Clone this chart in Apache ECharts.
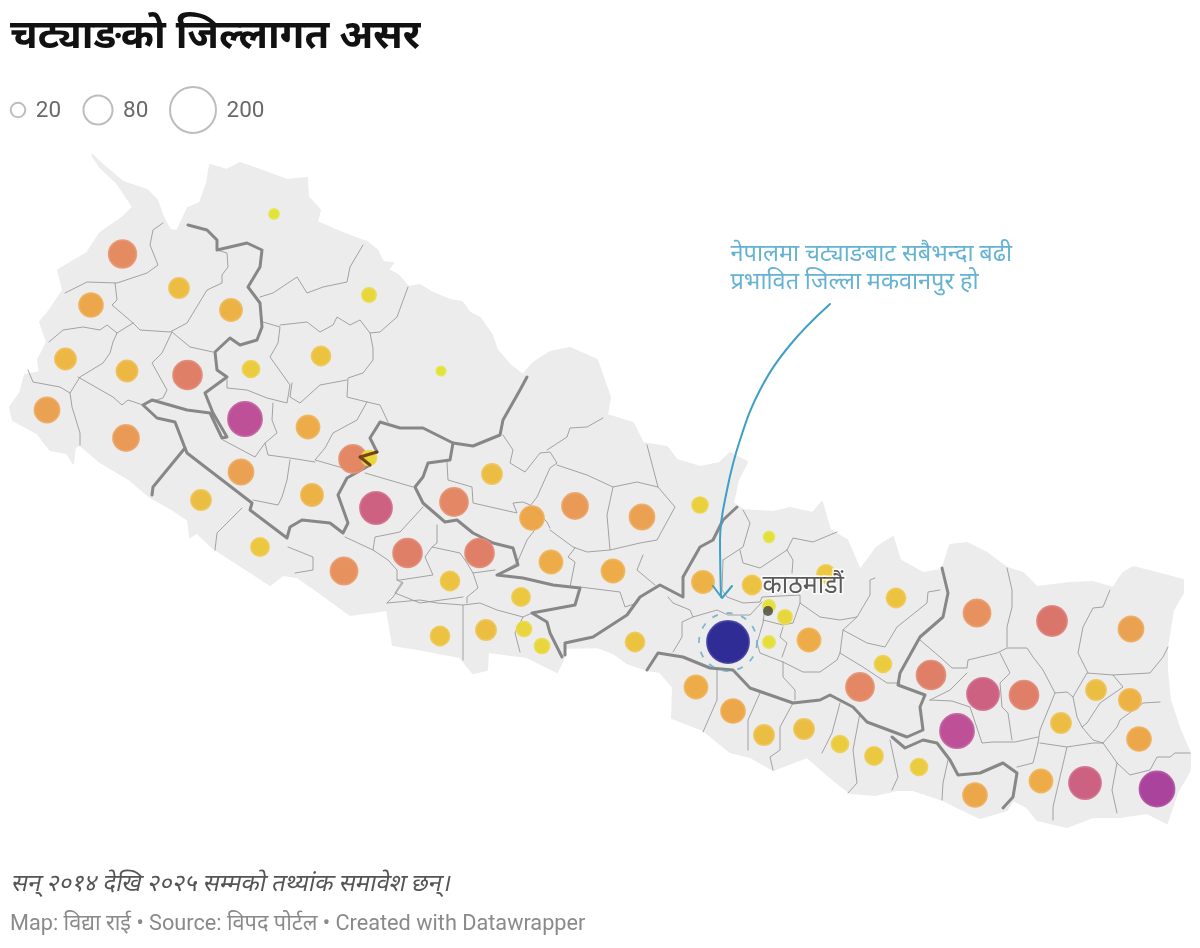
<!DOCTYPE html>
<html><head><meta charset="utf-8">
<style>html,body{margin:0;padding:0;background:#fff}#main{width:1200px;height:948px}</style>
<script src="https://cdn.jsdelivr.net/npm/echarts@6/dist/echarts.min.js"></script>
</head><body><div id="main"></div>
<script>
const titleText = "चट्याङको जिल्लागत असर";
const noteText = "सन् २०१४ देखि २०२५ सम्मको तथ्यांक समावेश छन्।";
const sourceText = "Map: विद्या राई • Source: विपद पोर्टल • Created with Datawrapper";
const annotationText = "नेपालमा चट्याङबाट सबैभन्दा बढी\nप्रभावित जिल्ला मकवानपुर हो";
const capitalName = "काठमाडौं";
const legendValues = [20, 80, 200];
const legendX = [18, 98, 193];

const bubbleX = [122.5,179,91,231,274,369,65.5,127,187.5,251,321,441,47,126,245,308,241,201,312,353,369,376,260,344,407.5,454,479.5,492,532,575,642,551,450,613,521,440,486,524,542,635,700,703,752,769,826,769,785,769,728,809,896,883,860,696,733,764,804,840,874,919,977,1052,1131,931,983,1024,1096,1130,1061,1139,957,975,1041,1085,1157];
const bubbleY = [254,288,305,310,214,295,359,371,375,369,356,371,410,438,419,427,472,500,495,459,458,508,547,571,553,502,553,474,518,506,517,562,581,571,597,636,630,629,646,642,505,582,585,537,574,606,617,642,642,640,598,664,687,687,711,735,729,744,756,767,613,621,629,675,694,695,690,700,723,739,731,795,781,783,789];
const bubbleValue = [72,38,54,46,9.5,19,42,42,79,27,34,8,59,64,109,50,59,38,46,74,21,97,31,69,79,74,79,38,54,64,59,50,34,50,31,34,38,21,21,34,24,46,34,11,31,14,19,14,167,50,34,27,74,50,54,38,38,27,31,27,69,85,59,79,97,79,38,46,38,54,109,54,50,97,116];

const nepalOutline = [[92,155],[103,165],[123,182],[147,190],[157,200],[163,217],[170,230],[177,231],[188,208],[200,203],[207,183],[210,165],[227,170],[240,163],[260,170],[287,180],[307,178],[308,197],[320,210],[317,222],[340,232],[353,237],[367,242],[377,250],[383,262],[393,263],[388,270],[398,275],[408,287],[420,285],[433,293],[450,300],[462,302],[470,313],[480,318],[492,335],[497,350],[510,365],[523,375],[533,363],[550,352],[570,348],[597,360],[603,377],[610,397],[607,415],[633,423],[643,443],[667,447],[677,460],[700,467],[720,463],[730,453],[747,462],[738,480],[733,503],[743,510],[773,512],[790,508],[813,513],[822,502],[830,530],[847,540],[860,570],[877,547],[893,537],[900,560],[923,573],[942,570],[950,545],[967,543],[987,553],[1007,568],[1023,573],[1037,587],[1070,583],[1093,582],[1113,588],[1123,573],[1133,567],[1157,573],[1183,580],[1183,593],[1173,610],[1167,647],[1167,670],[1170,700],[1180,730],[1190,753],[1190,770],[1177,793],[1167,823],[1147,813],[1120,817],[1093,817],[1067,827],[1037,820],[1027,807],[1013,800],[1007,810],[980,818],[957,807],[943,800],[913,790],[897,790],[875,795],[850,793],[830,777],[807,757],[773,770],[750,757],[730,752],[703,730],[672,718],[673,687],[660,672],[647,670],[627,663],[613,653],[597,647],[566,648],[563,660],[557,672],[527,657],[488,652],[487,670],[473,673],[460,657],[423,650],[393,645],[387,610],[350,615],[320,593],[297,577],[283,575],[270,585],[247,570],[213,548],[197,533],[190,537],[188,520],[173,510],[150,497],[130,480],[100,462],[80,445],[75,447],[73,463],[67,453],[50,450],[37,433],[13,420],[10,407],[20,393],[25,375],[40,372],[38,360],[47,342],[40,322],[50,310],[63,290],[58,270],[87,253],[100,233],[123,217],[133,207],[117,183],[100,167]];

const provinceBorders = [
 [[188,225],[207,230],[217,240],[217,250],[247,243],[262,250],[260,267],[248,287],[260,303],[262,327],[257,340],[240,345],[230,338],[215,352],[217,370],[227,377],[205,393],[213,413],[227,437],[222,438],[210,413],[187,410],[152,400],[143,405],[157,418],[175,422],[185,448],[153,487],[152,495]],
 [[185,448],[187,453],[252,503],[250,510],[287,538],[290,527],[302,520],[330,523],[343,533],[348,523],[338,495],[347,478],[370,465],[360,457],[377,452],[370,438],[380,422],[400,428],[423,428],[453,443],[473,446],[500,435],[503,420],[520,390],[527,377]],
 [[453,443],[450,460],[428,463],[423,477],[415,487],[423,503],[445,522],[457,520],[473,533],[493,543],[513,548],[518,565],[497,575],[523,578],[553,585],[580,588],[575,605],[532,613],[547,622],[550,633],[562,657]],
 [[565,655],[565,643],[593,637],[627,615],[640,597],[660,585],[683,597],[683,577],[700,547],[713,540],[723,520],[737,507]],
 [[647,670],[658,653],[683,657],[710,668],[733,670],[750,688],[793,703],[820,700],[830,695],[853,707],[867,722],[907,737],[923,730],[920,707],[925,695],[898,685],[900,673],[920,637],[943,617],[948,593],[942,568]],
 [[892,737],[905,748],[923,740],[937,743],[950,760],[958,775],[980,773],[1003,763],[1017,773],[1013,797],[1003,808]]
];
const overlapBorder = [[370,465],[360,457],[377,452]];

const districtBorders = [
 [[65,293],[87,282],[117,283],[147,273],[158,265],[150,245],[153,230],[163,223]],
 [[115,283],[117,300],[112,305],[133,323],[140,330],[170,332],[187,323],[207,290],[222,283],[222,275],[228,267],[227,253],[217,250]],
 [[49,342],[63,330],[83,327],[100,330],[107,325],[117,333],[113,342],[110,353],[103,363],[80,377],[70,393],[60,387],[33,382],[28,370]],
 [[117,333],[133,323]],
 [[78,377],[113,397],[122,405],[128,400],[143,405]],
 [[172,332],[162,353],[152,363],[167,390],[163,398],[147,403]],
 [[172,332],[190,347],[213,352]],
 [[70,393],[72,407],[80,433],[80,445]],
 [[227,380],[227,388],[247,390],[267,398],[287,403],[290,385],[270,357],[278,343],[280,327],[263,322]],
 [[280,325],[307,322],[320,332],[333,325],[337,317],[350,325],[360,320],[370,333],[380,332],[397,317],[408,287]],
 [[370,333],[373,348],[373,360],[363,373],[348,378],[347,397],[367,402],[380,405],[388,422]],
 [[260,297],[273,293],[297,277],[307,293],[323,287],[347,282],[350,267],[363,245]],
 [[292,383],[290,397],[300,403],[320,385],[347,380]],
 [[367,402],[357,420],[333,433],[325,448],[315,460],[343,468]],
 [[273,403],[272,420],[277,433],[265,443],[268,455],[290,458],[315,462]],
 [[223,440],[255,457],[265,443]],
 [[290,460],[287,480],[282,497],[278,505],[253,500]],
 [[242,508],[217,533],[215,550]],
 [[288,547],[313,557],[313,570],[295,573]],
 [[345,537],[373,550],[375,537],[400,532],[423,507]],
 [[365,473],[413,487]],
 [[373,550],[388,560],[397,570],[397,580],[403,583],[393,597],[387,603]],
 [[397,580],[400,580],[433,575],[425,557],[432,547],[460,553],[467,563],[473,573],[495,570]],
 [[437,525],[437,543],[432,547]],
 [[473,573],[478,588],[467,597],[467,603]],
 [[402,582],[395,593],[420,603],[463,597]],
 [[387,603],[420,600],[437,603],[463,605],[463,660]],
 [[463,605],[480,603],[497,610],[523,617],[515,633],[520,652]],
 [[523,617],[532,613]],
 [[503,435],[513,450],[510,463],[525,472],[540,453],[550,452],[557,463],[550,468],[537,497],[527,510]],
 [[547,450],[567,437],[570,428],[587,427],[603,418]],
 [[557,465],[587,475],[613,487],[637,482],[658,487],[647,445]],
 [[613,487],[607,515],[610,550],[640,543],[657,540],[675,507],[658,487]],
 [[447,462],[448,480],[472,487],[473,503],[517,513],[513,503],[523,502],[530,505],[547,522],[550,528]],
 [[537,527],[527,540],[517,563],[497,575]],
 [[550,530],[573,547],[587,552],[610,550]],
 [[575,548],[568,557],[575,562],[570,587]],
 [[643,555],[637,570],[655,585]],
 [[580,587],[620,592],[625,607],[637,603]],
 [[743,510],[750,523],[743,547],[723,560]],
 [[740,550],[743,563],[760,568],[787,550],[793,538],[813,542],[837,532]],
 [[787,550],[793,560],[792,573]],
 [[723,560],[722,590],[727,597],[743,603],[760,602],[762,597],[800,595],[800,603],[820,617],[840,620],[857,617],[870,595],[870,580],[875,578]],
 [[668,597],[673,603],[690,610],[693,617],[717,610],[728,615],[750,615],[762,602]],
 [[693,617],[682,622],[682,637],[673,652]],
 [[765,607],[763,623],[757,643],[760,653],[783,662],[803,672],[820,672],[837,660],[840,653],[843,630],[857,617]],
 [[763,620],[783,625],[793,623],[800,603]],
 [[783,627],[780,637],[787,643],[782,657]],
 [[783,662],[783,677],[795,690],[795,700]],
 [[840,653],[863,667],[887,683],[900,683]],
 [[843,630],[867,643],[885,647],[897,627],[927,603],[928,592],[940,590]],
 [[717,670],[717,700],[703,732]],
 [[760,693],[748,720],[748,750]],
 [[793,703],[780,727],[780,750],[770,757],[773,770]],
 [[840,703],[832,733],[822,753]],
 [[860,713],[853,750],[857,783],[848,793]],
 [[890,740],[898,777],[892,790]],
 [[920,640],[940,657],[952,668],[967,668],[968,660],[997,653],[1007,648],[1027,648],[1033,657],[1043,670],[1055,693],[1067,692],[1073,697],[1087,673],[1113,675],[1150,673],[1163,657],[1168,647]],
 [[1007,568],[1012,590],[1012,607],[1007,627],[1007,647]],
 [[1110,590],[1103,607],[1093,608],[1083,627],[1078,653],[1088,673]],
 [[1073,697],[1077,717],[1082,727],[1087,723],[1100,703],[1123,687],[1113,675]],
 [[1082,727],[1093,740],[1103,743]],
 [[1055,693],[1040,730],[1038,743]],
 [[930,700],[952,701],[970,707],[982,743],[993,742],[1015,742],[1038,737]],
 [[930,700],[950,690],[967,673]],
 [[1000,653],[1010,673],[1000,683],[1002,707],[1008,713],[1012,740]],
 [[1040,743],[1067,747],[1093,743],[1103,743],[1113,757],[1117,763],[1130,775],[1150,770],[1157,757],[1170,757],[1175,753],[1190,753]],
 [[1103,743],[1117,727],[1120,720],[1143,703],[1160,702]],
 [[1067,747],[1060,777],[1053,807],[1053,820]],
 [[1117,763],[1112,790],[1117,813]],
 [[1038,743],[1033,763],[1017,767]],
 [[948,760],[943,783],[942,800]]
];

const arrowCurve = [[830,304],[790,345],[760,390],[740,440],[727,490],[720,540],[721,597]];
const arrowHead = [[713,586],[722,598],[732,586]];
const highlightPoint = [728,642];
const capitalPoint = [768,611];
const capitalLabelPoint = [762,587];
const annotationPoint = [730,269];

const colorStops = [[8,'#dde327'],[15,'#e4dc2b'],[21,'#e8d22c'],[34,'#ecbe32'],[50,'#eda638'],[64,'#e9934a'],[74,'#e27e58'],[85,'#d86a60'],[97,'#c95578'],[109,'#b8428f'],[116,'#a43494'],[167,'#1f1b8e']];
function colorFor(v){
  for(let i=1;i<colorStops.length;i++){
    if(v<=colorStops[i][0]){
      const a=colorStops[i-1],b=colorStops[i];
      return echarts.color.lerp((v-a[0])/(b[0]-a[0]),[a[1],b[1]]);
    }
  }
  return colorStops[colorStops.length-1][1];
}
const sizeFor = v => 3.252*Math.sqrt(v);
const FONT = "Roboto, 'Noto Sans', sans-serif";

const lineSeries = (pts,color,width,z,extra) => Object.assign({
  type:'line',data:pts,showSymbol:false,symbol:'none',silent:true,animation:false,z,
  lineStyle:{color,width,join:'round',cap:'round'},clip:false
},extra||{});

const series = [
 {type:'custom',coordinateSystem:'cartesian2d',silent:true,animation:false,z:1,clip:false,
  data:nepalOutline,
  renderItem:(p,api)=> p.dataIndex===0 ? {type:'polygon',shape:{points:nepalOutline.map(c=>api.coord(c))},style:{fill:'#ececec',stroke:'#ececec',lineWidth:2,lineJoin:'round'}} : null
 },
 ...districtBorders.map(b=>lineSeries(b,'#9a9a9a',0.9,2)),
 ...provinceBorders.map(b=>lineSeries(b,'#878787',3,3)),
 {type:'scatter',z:4,silent:true,animation:false,clip:false,
  symbolSize:d=>sizeFor(d[2]),
  data:bubbleX.map((x,i)=>{const c=colorFor(bubbleValue[i]);return {value:[x,bubbleY[i],bubbleValue[i]],
    itemStyle:{color:c,opacity:0.92,borderColor:echarts.color.lift(c,0.16),borderWidth:1.8}}})
 },
 lineSeries(overlapBorder,'rgba(95,45,15,0.85)',3,5),
 {type:'scatter',z:5,silent:true,animation:false,clip:false,symbolSize:58,data:[highlightPoint],
  itemStyle:{color:'rgba(0,0,0,0)',borderColor:'#5fabc9',borderWidth:1.8,borderType:[6,9]}},
 {type:'scatter',z:6,silent:true,animation:false,clip:false,symbolSize:10,data:[capitalPoint],itemStyle:{color:'#444'}},
 {type:'scatter',z:7,silent:true,animation:false,clip:false,symbolSize:1,data:[capitalLabelPoint],itemStyle:{color:'rgba(0,0,0,0)'},
  label:{show:true,position:'right',distance:0,formatter:capitalName,fontFamily:FONT,fontSize:25,color:'#333',textBorderColor:'#fff',textBorderWidth:3}},
 lineSeries(arrowCurve,'#3f9fc6',2,8,{smooth:0.4}),
 lineSeries(arrowHead,'#3f9fc6',2,8),
 {type:'scatter',z:9,silent:true,animation:false,clip:false,symbolSize:1,data:[annotationPoint],itemStyle:{color:'rgba(0,0,0,0)'},
  label:{show:true,position:'right',distance:0,align:'left',verticalAlign:'middle',formatter:annotationText,fontFamily:FONT,fontSize:23.5,lineHeight:28,color:'#3f9fc6'}},
 {type:'scatter',z:9,silent:true,animation:false,clip:false,symbolSize:d=>sizeFor(d[2]),
  data:legendValues.map((v,i)=>[legendX[i],110,v]),
  itemStyle:{color:'rgba(255,255,255,0)',borderColor:'#adadad',borderWidth:2},
  label:{show:true,position:'right',distance:9.5,offset:[0,1],formatter:p=>String(p.value[2]),fontFamily:FONT,fontSize:22.5,color:'#444'}}
];

const chart = echarts.init(document.getElementById('main'),null,{renderer:'canvas'});
chart.setOption({
 animation:false,
 backgroundColor:'#fff',
 grid:{left:0,right:0,top:0,bottom:0},
 xAxis:{type:'value',min:0,max:1200,show:false},
 yAxis:{type:'value',min:0,max:948,inverse:true,show:false},
 title:[
  {text:titleText,left:10,top:18,padding:0,textStyle:{fontFamily:FONT,fontSize:40,fontWeight:'bold',color:'#111'}},
  {text:sourceText,left:10,top:914,padding:0,textStyle:{fontFamily:FONT,fontSize:21.7,fontWeight:'normal',color:'#8a8a8a'}}
 ],
 series
});
const note = new echarts.graphic.Text({
  x:12,y:885,skewX:-0.2,silent:true,z:20,
  style:{text:noteText,fontFamily:FONT,fontSize:24,fill:'#555',align:'left',verticalAlign:'middle'}
});
note.skewX = -0.2;
chart.getZr().add(note);
</script></body></html>
